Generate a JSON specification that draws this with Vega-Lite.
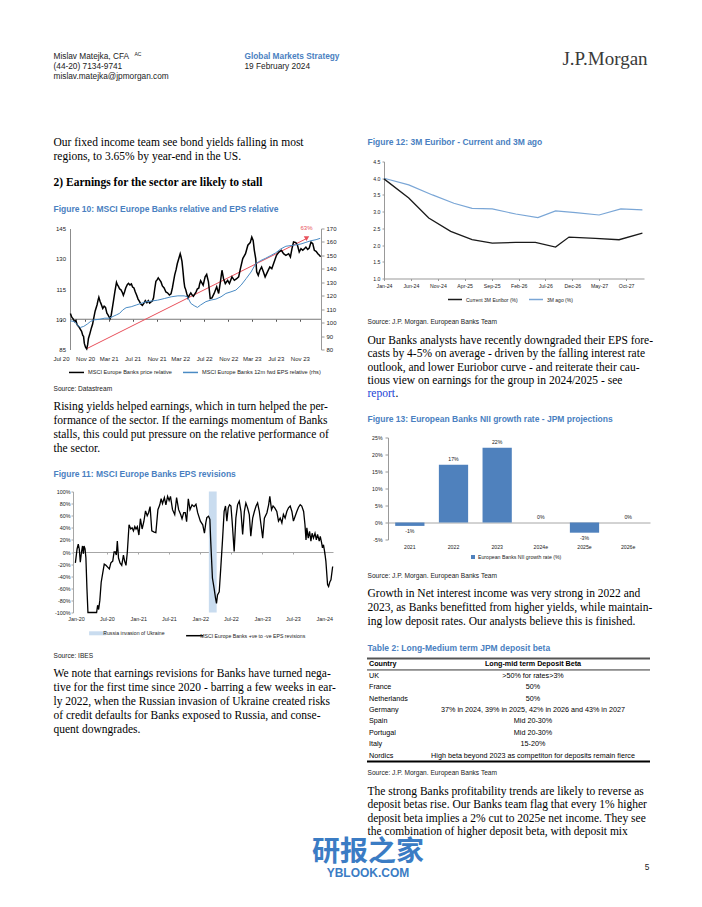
{
"$schema":"https://vega.github.io/schema/vega-lite/v6.json",
"background":"white",
"padding":{"left":52,"top":49.5,"right":0,"bottom":0},
"config":{"view":{"stroke":null},"axis":{"grid":false,"labelColor":"#222","labelFont":"Liberation Sans"},"legend":{"padding":0,"labelColor":"#222","labelFont":"Liberation Sans"}},
"datasets":{
"fig10_price":[{"date":"2020-08-18","value":102.8},{"date":"2020-08-25","value":101.0},{"date":"2020-09-01","value":100.2},{"date":"2020-09-08","value":98.9},{"date":"2020-09-15","value":99.5},{"date":"2020-09-21","value":97.3},{"date":"2020-10-02","value":96.0},{"date":"2020-10-08","value":95.0},{"date":"2020-10-14","value":94.0},{"date":"2020-10-20","value":92.0},{"date":"2020-10-24","value":91.5},{"date":"2020-10-28","value":88.0},{"date":"2020-11-03","value":86.1},{"date":"2020-11-09","value":85.3},{"date":"2020-11-14","value":87.4},{"date":"2020-11-18","value":90.5},{"date":"2020-11-24","value":92.4},{"date":"2020-12-03","value":95.7},{"date":"2020-12-09","value":97.5},{"date":"2020-12-15","value":100.6},{"date":"2020-12-22","value":104.0},{"date":"2021-01-01","value":107.2},{"date":"2021-01-06","value":109.5},{"date":"2021-01-10","value":110.9},{"date":"2021-01-16","value":108.9},{"date":"2021-01-22","value":107.5},{"date":"2021-01-30","value":105.3},{"date":"2021-02-06","value":106.5},{"date":"2021-02-13","value":105.9},{"date":"2021-02-20","value":103.0},{"date":"2021-02-25","value":102.3},{"date":"2021-03-04","value":101.0},{"date":"2021-03-08","value":100.3},{"date":"2021-03-14","value":102.0},{"date":"2021-03-20","value":105.6},{"date":"2021-03-27","value":110.0},{"date":"2021-04-02","value":113.8},{"date":"2021-04-06","value":116.0},{"date":"2021-04-10","value":118.3},{"date":"2021-04-15","value":117.0},{"date":"2021-04-20","value":116.3},{"date":"2021-04-26","value":115.0},{"date":"2021-05-02","value":114.7},{"date":"2021-05-09","value":113.5},{"date":"2021-05-15","value":111.9},{"date":"2021-05-21","value":113.5},{"date":"2021-05-27","value":115.5},{"date":"2021-06-04","value":117.2},{"date":"2021-06-10","value":117.8},{"date":"2021-06-18","value":117.0},{"date":"2021-06-25","value":117.5},{"date":"2021-07-01","value":116.0},{"date":"2021-07-08","value":115.5},{"date":"2021-07-15","value":113.5},{"date":"2021-07-22","value":111.9},{"date":"2021-07-29","value":110.0},{"date":"2021-08-05","value":108.9},{"date":"2021-08-12","value":107.5},{"date":"2021-08-20","value":106.9},{"date":"2021-08-28","value":108.0},{"date":"2021-09-04","value":109.2},{"date":"2021-09-12","value":108.2},{"date":"2021-09-19","value":109.2},{"date":"2021-09-26","value":108.0},{"date":"2021-10-03","value":108.6},{"date":"2021-10-10","value":109.0},{"date":"2021-10-16","value":110.6},{"date":"2021-10-22","value":115.0},{"date":"2021-10-28","value":118.8},{"date":"2021-11-03","value":119.5},{"date":"2021-11-09","value":120.5},{"date":"2021-11-16","value":119.5},{"date":"2021-11-23","value":118.5},{"date":"2021-11-30","value":116.5},{"date":"2021-12-09","value":115.5},{"date":"2021-12-18","value":113.5},{"date":"2021-12-26","value":113.1},{"date":"2022-01-05","value":112.0},{"date":"2022-01-13","value":112.6},{"date":"2022-01-20","value":115.5},{"date":"2022-01-26","value":118.8},{"date":"2022-02-01","value":122.0},{"date":"2022-02-08","value":124.6},{"date":"2022-02-14","value":127.5},{"date":"2022-02-20","value":129.5},{"date":"2022-02-26","value":131.5},{"date":"2022-03-01","value":132.5},{"date":"2022-03-05","value":131.0},{"date":"2022-03-10","value":128.7},{"date":"2022-03-15","value":124.0},{"date":"2022-03-20","value":118.8},{"date":"2022-03-24","value":116.0},{"date":"2022-03-29","value":114.7},{"date":"2022-04-04","value":112.5},{"date":"2022-04-10","value":110.6},{"date":"2022-04-17","value":112.0},{"date":"2022-04-24","value":113.1},{"date":"2022-05-01","value":112.0},{"date":"2022-05-07","value":111.4},{"date":"2022-05-14","value":112.5},{"date":"2022-05-21","value":113.6},{"date":"2022-05-27","value":115.0},{"date":"2022-06-04","value":115.5},{"date":"2022-06-08","value":117.5},{"date":"2022-06-13","value":119.1},{"date":"2022-06-26","value":116.9},{"date":"2022-07-06","value":121.0},{"date":"2022-07-14","value":122.2},{"date":"2022-07-23","value":118.5},{"date":"2022-08-01","value":110.3},{"date":"2022-08-10","value":110.6},{"date":"2022-08-21","value":112.8},{"date":"2022-09-03","value":116.1},{"date":"2022-09-13","value":112.8},{"date":"2022-09-22","value":118.5},{"date":"2022-09-30","value":124.3},{"date":"2022-10-08","value":120.1},{"date":"2022-10-17","value":117.7},{"date":"2022-10-29","value":119.3},{"date":"2022-11-07","value":117.7},{"date":"2022-11-20","value":121.0},{"date":"2022-12-02","value":119.3},{"date":"2022-12-14","value":120.1},{"date":"2022-12-24","value":121.0},{"date":"2023-01-02","value":125.1},{"date":"2023-01-14","value":130.1},{"date":"2023-01-28","value":132.5},{"date":"2023-02-09","value":136.7},{"date":"2023-02-21","value":138.0},{"date":"2023-03-01","value":140.8},{"date":"2023-03-08","value":139.1},{"date":"2023-03-14","value":134.2},{"date":"2023-03-21","value":130.1},{"date":"2023-03-26","value":123.5},{"date":"2023-04-03","value":121.8},{"date":"2023-04-11","value":124.3},{"date":"2023-04-20","value":125.9},{"date":"2023-04-29","value":123.5},{"date":"2023-05-08","value":121.0},{"date":"2023-05-20","value":123.5},{"date":"2023-06-01","value":125.9},{"date":"2023-06-11","value":125.1},{"date":"2023-06-23","value":128.4},{"date":"2023-07-05","value":131.7},{"date":"2023-07-18","value":133.4},{"date":"2023-07-30","value":134.2},{"date":"2023-08-10","value":132.5},{"date":"2023-08-22","value":131.7},{"date":"2023-09-05","value":132.5},{"date":"2023-09-14","value":130.9},{"date":"2023-09-22","value":135.0},{"date":"2023-09-30","value":138.3},{"date":"2023-10-12","value":138.0},{"date":"2023-10-20","value":136.7},{"date":"2023-10-29","value":133.4},{"date":"2023-11-07","value":135.0},{"date":"2023-11-16","value":134.2},{"date":"2023-11-24","value":135.0},{"date":"2023-12-02","value":135.8},{"date":"2023-12-11","value":134.6},{"date":"2023-12-19","value":135.3},{"date":"2023-12-28","value":138.3},{"date":"2024-01-06","value":137.5},{"date":"2024-01-14","value":134.2},{"date":"2024-01-23","value":133.7},{"date":"2024-02-01","value":132.5},{"date":"2024-02-09","value":131.7},{"date":"2024-02-15","value":131.0}],
"fig10_eps":[{"date":"2020-08-18","value":101.3},{"date":"2020-09-08","value":100.8},{"date":"2020-09-21","value":98.4},{"date":"2020-10-08","value":96.4},{"date":"2020-10-25","value":97.2},{"date":"2020-11-12","value":98.9},{"date":"2020-11-28","value":100.8},{"date":"2020-12-15","value":102.0},{"date":"2021-01-14","value":102.5},{"date":"2021-02-09","value":103.3},{"date":"2021-03-04","value":103.3},{"date":"2021-04-09","value":105.7},{"date":"2021-04-26","value":106.9},{"date":"2021-05-12","value":109.4},{"date":"2021-05-29","value":111.1},{"date":"2021-06-24","value":111.8},{"date":"2021-07-20","value":113.1},{"date":"2021-08-13","value":114.3},{"date":"2021-09-08","value":115.5},{"date":"2021-10-03","value":116.0},{"date":"2021-11-06","value":116.7},{"date":"2021-12-10","value":117.9},{"date":"2022-01-14","value":119.2},{"date":"2022-02-17","value":119.9},{"date":"2022-03-21","value":119.9},{"date":"2022-04-07","value":119.2},{"date":"2022-04-24","value":114.3},{"date":"2022-05-11","value":112.6},{"date":"2022-05-28","value":111.3},{"date":"2022-06-13","value":113.1},{"date":"2022-07-10","value":115.6},{"date":"2022-08-05","value":116.8},{"date":"2022-08-30","value":117.5},{"date":"2022-09-25","value":119.2},{"date":"2022-10-20","value":121.7},{"date":"2022-11-15","value":122.9},{"date":"2022-12-10","value":124.2},{"date":"2023-01-05","value":127.8},{"date":"2023-01-31","value":132.7},{"date":"2023-02-25","value":137.6},{"date":"2023-03-21","value":143.8},{"date":"2023-04-16","value":146.2},{"date":"2023-05-11","value":147.9},{"date":"2023-06-06","value":149.9},{"date":"2023-07-01","value":151.9},{"date":"2023-07-27","value":154.8},{"date":"2023-08-22","value":156.8},{"date":"2023-09-17","value":157.3},{"date":"2023-10-12","value":157.8},{"date":"2023-11-07","value":158.5},{"date":"2023-12-02","value":159.7},{"date":"2023-12-28","value":160.9},{"date":"2024-01-23","value":161.7},{"date":"2024-02-13","value":162.7}],
"fig10_trend":[{"date":"2020-11-09","value":85.4,"label":""},{"date":"2023-12-05","value":140.0,"label":"63%"}],
"fig11":[{"date":"2019-12-28","value":-18},{"date":"2020-01-07","value":5},{"date":"2020-01-14","value":13},{"date":"2020-01-20","value":5},{"date":"2020-01-26","value":-17},{"date":"2020-02-02","value":0},{"date":"2020-02-08","value":10},{"date":"2020-02-13","value":-3},{"date":"2020-02-17","value":10},{"date":"2020-02-23","value":5},{"date":"2020-02-28","value":-10},{"date":"2020-03-05","value":-60},{"date":"2020-03-11","value":-100},{"date":"2020-04-08","value":-100},{"date":"2020-05-01","value":-100},{"date":"2020-05-07","value":-88},{"date":"2020-05-13","value":-95},{"date":"2020-05-20","value":-80},{"date":"2020-05-28","value":-50},{"date":"2020-06-06","value":-35},{"date":"2020-06-15","value":-20},{"date":"2020-06-25","value":-22},{"date":"2020-07-05","value":-25},{"date":"2020-07-15","value":-28},{"date":"2020-07-24","value":-18},{"date":"2020-08-04","value":-15},{"date":"2020-08-12","value":0},{"date":"2020-08-19","value":0},{"date":"2020-08-25","value":-5},{"date":"2020-08-31","value":18},{"date":"2020-09-07","value":-10},{"date":"2020-09-16","value":-18},{"date":"2020-09-26","value":-22},{"date":"2020-10-06","value":-5},{"date":"2020-10-13","value":-15},{"date":"2020-10-21","value":-22},{"date":"2020-10-29","value":0},{"date":"2020-11-08","value":45},{"date":"2020-11-18","value":38},{"date":"2020-11-26","value":40},{"date":"2020-12-04","value":35},{"date":"2020-12-12","value":42},{"date":"2020-12-19","value":38},{"date":"2020-12-27","value":42},{"date":"2021-01-05","value":28},{"date":"2021-01-14","value":55},{"date":"2021-01-24","value":38},{"date":"2021-02-03","value":50},{"date":"2021-02-13","value":68},{"date":"2021-02-23","value":60},{"date":"2021-03-03","value":65},{"date":"2021-03-12","value":75},{"date":"2021-03-22","value":35},{"date":"2021-04-05","value":33},{"date":"2021-04-15","value":32},{"date":"2021-04-27","value":70},{"date":"2021-05-08","value":78},{"date":"2021-05-16","value":88},{"date":"2021-05-24","value":80},{"date":"2021-06-04","value":90},{"date":"2021-06-13","value":78},{"date":"2021-06-23","value":92},{"date":"2021-07-02","value":85},{"date":"2021-07-10","value":92},{"date":"2021-07-22","value":70},{"date":"2021-08-04","value":62},{"date":"2021-08-15","value":90},{"date":"2021-08-27","value":70},{"date":"2021-09-08","value":62},{"date":"2021-09-16","value":55},{"date":"2021-09-26","value":65},{"date":"2021-10-05","value":65},{"date":"2021-10-13","value":50},{"date":"2021-10-23","value":88},{"date":"2021-11-02","value":70},{"date":"2021-11-14","value":78},{"date":"2021-11-26","value":75},{"date":"2021-12-07","value":79},{"date":"2021-12-17","value":65},{"date":"2022-01-02","value":51},{"date":"2022-01-16","value":45},{"date":"2022-01-26","value":31},{"date":"2022-02-03","value":48},{"date":"2022-02-09","value":57},{"date":"2022-02-19","value":59},{"date":"2022-02-27","value":54},{"date":"2022-03-04","value":18},{"date":"2022-03-14","value":-43},{"date":"2022-03-24","value":-60},{"date":"2022-04-01","value":-76},{"date":"2022-04-07","value":-85},{"date":"2022-04-13","value":-71},{"date":"2022-04-23","value":-66},{"date":"2022-05-02","value":-27},{"date":"2022-05-12","value":18},{"date":"2022-05-22","value":67},{"date":"2022-05-30","value":76},{"date":"2022-06-07","value":51},{"date":"2022-06-15","value":73},{"date":"2022-06-23","value":78},{"date":"2022-07-01","value":76},{"date":"2022-07-08","value":51},{"date":"2022-07-20","value":1},{"date":"2022-07-30","value":56},{"date":"2022-08-09","value":78},{"date":"2022-08-19","value":84},{"date":"2022-08-29","value":67},{"date":"2022-09-08","value":29},{"date":"2022-09-18","value":67},{"date":"2022-09-27","value":81},{"date":"2022-10-07","value":73},{"date":"2022-10-17","value":62},{"date":"2022-10-26","value":26},{"date":"2022-11-06","value":56},{"date":"2022-11-16","value":67},{"date":"2022-11-26","value":76},{"date":"2022-12-05","value":81},{"date":"2022-12-15","value":67},{"date":"2022-12-25","value":45},{"date":"2023-01-04","value":23},{"date":"2023-01-14","value":56},{"date":"2023-01-29","value":65},{"date":"2023-02-08","value":78},{"date":"2023-02-15","value":92},{"date":"2023-02-25","value":70},{"date":"2023-03-06","value":76},{"date":"2023-03-16","value":73},{"date":"2023-03-28","value":67},{"date":"2023-04-07","value":51},{"date":"2023-04-17","value":56},{"date":"2023-04-27","value":48},{"date":"2023-05-06","value":62},{"date":"2023-05-16","value":56},{"date":"2023-05-26","value":67},{"date":"2023-06-05","value":73},{"date":"2023-06-15","value":76},{"date":"2023-06-25","value":67},{"date":"2023-07-04","value":51},{"date":"2023-07-14","value":59},{"date":"2023-07-24","value":67},{"date":"2023-08-03","value":74},{"date":"2023-08-13","value":78},{"date":"2023-08-22","value":76},{"date":"2023-09-02","value":67},{"date":"2023-09-10","value":45},{"date":"2023-09-16","value":20},{"date":"2023-09-21","value":40},{"date":"2023-09-29","value":23},{"date":"2023-10-07","value":34},{"date":"2023-10-15","value":18},{"date":"2023-10-22","value":31},{"date":"2023-10-30","value":23},{"date":"2023-11-08","value":31},{"date":"2023-11-16","value":20},{"date":"2023-11-23","value":29},{"date":"2023-12-03","value":18},{"date":"2023-12-09","value":26},{"date":"2023-12-17","value":15},{"date":"2023-12-22","value":7},{"date":"2023-12-28","value":12},{"date":"2024-01-05","value":-2},{"date":"2024-01-11","value":-15},{"date":"2024-01-21","value":-54},{"date":"2024-01-27","value":-57},{"date":"2024-02-04","value":-49},{"date":"2024-02-10","value":-46},{"date":"2024-02-20","value":-24}],
"fig12_current":[{"date":"2024-01-01","value":3.98},{"date":"2024-05-20","value":3.41},{"date":"2024-09-10","value":2.81},{"date":"2025-01-12","value":2.41},{"date":"2025-05-13","value":2.16},{"date":"2025-09-04","value":2.06},{"date":"2026-01-15","value":2.08},{"date":"2026-05-06","value":2.08},{"date":"2026-08-28","value":1.94},{"date":"2026-11-12","value":2.24},{"date":"2027-04-10","value":2.2},{"date":"2027-08-22","value":2.16},{"date":"2028-01-01","value":2.36}],
"fig12_ago":[{"date":"2024-01-01","value":4.0},{"date":"2024-05-20","value":3.8},{"date":"2024-10-01","value":3.5},{"date":"2025-01-30","value":3.25},{"date":"2025-05-13","value":3.1},{"date":"2025-09-04","value":3.08},{"date":"2026-01-15","value":2.93},{"date":"2026-05-20","value":2.82},{"date":"2026-08-28","value":3.02},{"date":"2026-12-20","value":2.97},{"date":"2027-05-01","value":2.9},{"date":"2027-09-01","value":3.08},{"date":"2028-01-01","value":3.05}],
"fig13":[{"year":"2021","growth":-1,"label":"-1%"},{"year":"2022","growth":17,"label":"17%"},{"year":"2023","growth":22,"label":"22%"},{"year":"2024e","growth":0,"label":"0%"},{"year":"2025e","growth":-3,"label":"-3%"},{"year":"2026e","growth":0,"label":"0%"}],
"table2":[{"row":"Country","col":"Country","text":"Country"},{"row":"Country","col":"Beta","text":"Long-mid term Deposit Beta"},{"row":"UK","col":"Country","text":"UK"},{"row":"UK","col":"Beta","text":">50% for rates>3%"},{"row":"France","col":"Country","text":"France"},{"row":"France","col":"Beta","text":"50%"},{"row":"Netherlands","col":"Country","text":"Netherlands"},{"row":"Netherlands","col":"Beta","text":"50%"},{"row":"Germany","col":"Country","text":"Germany"},{"row":"Germany","col":"Beta","text":"37% in 2024, 39% in 2025, 42% in 2026 and 43% in 2027"},{"row":"Spain","col":"Country","text":"Spain"},{"row":"Spain","col":"Beta","text":"Mid 20-30%"},{"row":"Portugal","col":"Country","text":"Portugal"},{"row":"Portugal","col":"Beta","text":"Mid 20-30%"},{"row":"Italy","col":"Country","text":"Italy"},{"row":"Italy","col":"Beta","text":"15-20%"},{"row":"Nordics","col":"Country","text":"Nordics"},{"row":"Nordics","col":"Beta","text":"High beta beyond 2023 as competiton for deposits remain fierce"}]
},
"spacing":0,
"resolve":{"scale":{"color":"independent"},"legend":{"color":"independent"}},
"vconcat":[
{"hconcat":[
 {"width":1,"height":30,"encoding":{"y":{"field":"i","type":"ordinal","scale":{"type":"point","padding":0.5},"axis":null},"text":{"field":"t"}},
  "layer":[
   {"data":{"values":[{"i":0,"t":"Mislav Matejka, CFA"},{"i":1,"t":"(44-20) 7134-9741"},{"i":2,"t":"mislav.matejka@jpmorgan.com"}]},"mark":{"type":"text","align":"left","baseline":"middle","font":"Liberation Sans","fontSize":8.3,"color":"#222"}},
   {"data":{"values":[{"i":0,"t":"AC"}]},"mark":{"type":"text","align":"left","baseline":"middle","font":"Liberation Sans","fontSize":5,"color":"#222","dx":81,"dy":-3}}
  ]},
 {"width":190,"height":1,"data":{"values":[]},"mark":"point"},
 {"width":1,"height":20,"encoding":{"y":{"field":"i","type":"ordinal","scale":{"type":"point","padding":0.5},"axis":null},"text":{"field":"t"}},
  "layer":[
   {"data":{"values":[{"i":0,"t":"Global Markets Strategy"}]},"mark":{"type":"text","align":"left","baseline":"middle","font":"Liberation Sans","fontSize":8.3,"fontWeight":"bold","color":"#4a7fc1"}},
   {"data":{"values":[{"i":1,"t":"19 February 2024"}]},"mark":{"type":"text","align":"left","baseline":"middle","font":"Liberation Sans","fontSize":8.3,"color":"#222"}}
  ]},
 {"width":315,"height":1,"data":{"values":[]},"mark":"point"},
 {"width":90,"height":14,"data":{"values":[{"t":"J.P.Morgan"}]},"mark":{"type":"text","align":"center","baseline":"middle","font":"Liberation Serif","fontSize":19,"color":"#3a3a3a"},"encoding":{"text":{"field":"t"}}}
],"spacing":0,"bounds":"flush"},
{"hconcat":[
 {"vconcat":[
  {"width":313,"height":54,"data":{"values":[]},"mark":"point"},
  {"width":1,"height":28,"data":{"values":[{"i":0,"t":"Our fixed income team see bond yields falling in most"},{"i":1,"t":"regions, to 3.65% by year-end in the US."}]},"mark":{"type":"text","align":"left","baseline":"middle","font":"Liberation Serif","fontSize":11.5,"color":"#000"},"encoding":{"y":{"field":"i","type":"ordinal","scale":{"type":"point","padding":0.5},"axis":null},"text":{"field":"t"}}},
  {"width":1,"height":12,"data":{"values":[]},"mark":"point"},
  {"width":1,"height":14,"data":{"values":[{"t":"2) Earnings for the sector are likely to stall"}]},"mark":{"type":"text","align":"left","baseline":"middle","font":"Liberation Serif","fontSize":11.5,"fontWeight":"bold","color":"#000"},"encoding":{"text":{"field":"t"}}},
  {"width":1,"height":13,"data":{"values":[]},"mark":"point"},
  {"width":1,"height":12,"data":{"values":[{"t":"Figure 10: MSCI Europe Banks relative and EPS relative"}]},"mark":{"type":"text","align":"left","baseline":"middle","font":"Liberation Sans","fontSize":8.5,"fontWeight":"bold","color":"#4a7fc1"},"encoding":{"text":{"field":"t"}}},
  {"width":1,"height":14,"data":{"values":[]},"mark":"point"},
  {"width":268,"height":121,
   "encoding":{"x":{"field":"date","type":"temporal","scale":{"domain":[{"year":2020,"month":7,"date":1},{"year":2024,"month":2,"date":17}],"range":[8,268]},"axis":{"values":[{"year":2020,"month":7,"date":1},{"year":2020,"month":11,"date":1},{"year":2021,"month":3,"date":1},{"year":2021,"month":7,"date":1},{"year":2021,"month":11,"date":1},{"year":2022,"month":3,"date":1},{"year":2022,"month":7,"date":1},{"year":2022,"month":11,"date":1},{"year":2023,"month":3,"date":1},{"year":2023,"month":7,"date":1},{"year":2023,"month":11,"date":1}],"format":"%b %y","title":null,"offset":-30.25,"domain":false,"ticks":true,"tickSize":2,"tickColor":"#555","labelPadding":34.5,"labelFontSize":6,"labelFlush":false,"labelOverlap":false}}},
   "layer":[
    {"layer":[
      {"data":{"values":[{"level":100,"from":"2020-08-18","to":"2024-02-17"}]},"mark":{"type":"rule","color":"#555","strokeWidth":0.8},"encoding":{"x":{"field":"from","type":"temporal"},"x2":{"field":"to"},"y":{"field":"level","type":"quantitative","scale":{"domain":[85,145],"nice":false,"zero":false},"axis":{"title":null,"values":[85,100,115,130,145],"offset":-17,"domain":true,"domainColor":"#8c8c8c","ticks":false,"labelPadding":4.5,"labelFontSize":6,"labelFlush":false}}}},
      {"data":{"name":"fig10_trend"},"mark":{"type":"line","color":"#e8505b","strokeWidth":1},"encoding":{"y":{"field":"value","type":"quantitative","scale":{"domain":[85,145],"nice":false,"zero":false},"axis":{"title":null,"values":[85,100,115,130,145],"offset":-17,"domain":true,"domainColor":"#8c8c8c","ticks":false,"labelPadding":4.5,"labelFontSize":6,"labelFlush":false}}}},
      {"data":{"name":"fig10_price"},"mark":{"type":"line","strokeWidth":1.5},"encoding":{"y":{"field":"value","type":"quantitative","scale":{"domain":[85,145],"nice":false,"zero":false},"axis":{"title":null,"values":[85,100,115,130,145],"offset":-17,"domain":true,"domainColor":"#8c8c8c","ticks":false,"labelPadding":4.5,"labelFontSize":6,"labelFlush":false}},
        "color":{"datum":"MSCI Europe Banks price relative","type":"nominal","scale":{"domain":["MSCI Europe Banks price relative","MSCI Europe Banks 12m fwd EPS relative (rhs)"],"range":["#000000","#4a8bc4"]},"legend":{"title":null,"orient":"none","legendX":15,"legendY":135,"direction":"horizontal","symbolType":"stroke","symbolSize":225,"symbolStrokeWidth":1.5,"labelFontSize":5.6,"columnPadding":8,"labelOffset":3}}}},
      {"data":{"name":"fig10_trend"},"transform":[{"filter":"datum.label != ''"}],"mark":{"type":"point","shape":"triangle-down","filled":true,"color":"#e8505b","size":30,"opacity":1},"encoding":{"y":{"field":"value","type":"quantitative","scale":{"domain":[85,145],"nice":false,"zero":false},"axis":{"title":null,"values":[85,100,115,130,145],"offset":-17,"domain":true,"domainColor":"#8c8c8c","ticks":false,"labelPadding":4.5,"labelFontSize":6,"labelFlush":false}}}},
      {"data":{"name":"fig10_trend"},"transform":[{"filter":"datum.label != ''"}],"mark":{"type":"text","color":"#e8505b","font":"Liberation Sans","fontSize":6,"dy":-11},"encoding":{"y":{"field":"value","type":"quantitative","scale":{"domain":[85,145],"nice":false,"zero":false},"axis":{"title":null,"values":[85,100,115,130,145],"offset":-17,"domain":true,"domainColor":"#8c8c8c","ticks":false,"labelPadding":4.5,"labelFontSize":6,"labelFlush":false}},"text":{"field":"label"}}}
    ]},
    {"data":{"name":"fig10_eps"},"mark":{"type":"line","strokeWidth":1},"encoding":{"y":{"field":"value","type":"quantitative","scale":{"domain":[80,170],"nice":false,"zero":false},"axis":{"title":null,"orient":"right","values":[80,90,100,110,120,130,140,150,160,170],"domain":true,"domainColor":"#999","ticks":true,"tickSize":3,"tickColor":"#999","labelPadding":2,"labelFontSize":6,"labelFlush":false}},
      "color":{"datum":"MSCI Europe Banks 12m fwd EPS relative (rhs)","type":"nominal","scale":{"domain":["MSCI Europe Banks price relative","MSCI Europe Banks 12m fwd EPS relative (rhs)"],"range":["#000000","#4a8bc4"]},"legend":{"title":null,"orient":"none","legendX":15,"legendY":135,"direction":"horizontal","symbolType":"stroke","symbolSize":225,"symbolStrokeWidth":1.5,"labelFontSize":5.6,"columnPadding":8,"labelOffset":3}}}}
   ],
   "resolve":{"scale":{"y":"independent"}}},
  {"width":1,"height":34,"data":{"values":[]},"mark":"point"},
  {"width":1,"height":10,"data":{"values":[{"t":"Source: Datastream"}]},"mark":{"type":"text","align":"left","baseline":"middle","font":"Liberation Sans","fontSize":6.6,"color":"#222"},"encoding":{"text":{"field":"t"}}},
  {"width":1,"height":7,"data":{"values":[]},"mark":"point"},
  {"width":1,"height":55,"data":{"values":[{"i":0,"t":"Rising yields helped earnings, which in turn helped the per-"},{"i":1,"t":"formance of the sector. If the earnings momentum of Banks"},{"i":2,"t":"stalls, this could put pressure on the relative performance of"},{"i":3,"t":"the sector."}]},"mark":{"type":"text","align":"left","baseline":"middle","font":"Liberation Serif","fontSize":11.5,"color":"#000"},"encoding":{"y":{"field":"i","type":"ordinal","scale":{"type":"point","padding":0.5},"axis":null},"text":{"field":"t"}}},
  {"width":1,"height":12,"data":{"values":[]},"mark":"point"},
  {"width":1,"height":12,"data":{"values":[{"t":"Figure 11: MSCI Europe Banks EPS revisions"}]},"mark":{"type":"text","align":"left","baseline":"middle","font":"Liberation Sans","fontSize":8.5,"fontWeight":"bold","color":"#4a7fc1"},"encoding":{"text":{"field":"t"}}},
  {"width":1,"height":12,"data":{"values":[]},"mark":"point"},
  {"width":280,"height":121,
   "layer":[
    {"data":{"values":[{"date":"2022-02-21","end":"2022-04-08"}]},"mark":{"type":"rect"},"encoding":{"x":{"field":"date","type":"temporal","scale":{"domain":[{"year":2019,"month":12,"date":14},{"year":2024,"month":2,"date":22}],"range":[20,280]},"axis":{"values":[{"year":2020,"month":1,"date":1},{"year":2020,"month":7,"date":1},{"year":2021,"month":1,"date":1},{"year":2021,"month":7,"date":1},{"year":2022,"month":1,"date":1},{"year":2022,"month":7,"date":1},{"year":2023,"month":1,"date":1},{"year":2023,"month":7,"date":1},{"year":2024,"month":1,"date":1}],"format":"%b-%y","title":null,"offset":-60.5,"domain":true,"domainColor":"#a6a6a6","ticks":true,"tickSize":2,"tickColor":"#a6a6a6","labelPadding":62.8,"labelFontSize":5.4,"labelFlush":false,"labelOverlap":false}},"x2":{"field":"end"},
      "color":{"datum":"Russia invasion of Ukraine","type":"nominal","scale":{"domain":["Russia invasion of Ukraine","MSCI Europe Banks +ve to -ve EPS revisions"],"range":["#c9dcef","#000000"]},"legend":{"title":null,"orient":"none","legendX":42,"legendY":139,"direction":"horizontal","symbolType":"stroke","symbolSize":289,"symbolStrokeWidth":1.5,"labelFontSize":5.2,"columnPadding":18,"labelOffset":3,"encode":{"symbols":{"update":{"stroke":{"signal":"datum.value === 'Russia invasion of Ukraine' ? '#c9dcef' : '#000000'"},"strokeWidth":{"signal":"datum.value === 'Russia invasion of Ukraine' ? 4 : 1.5"}}}}}}}},
    {"data":{"name":"fig11"},"mark":{"type":"line","strokeWidth":1.3},"encoding":{"x":{"field":"date","type":"temporal","scale":{"domain":[{"year":2019,"month":12,"date":14},{"year":2024,"month":2,"date":22}],"range":[20,280]},"axis":{"values":[{"year":2020,"month":1,"date":1},{"year":2020,"month":7,"date":1},{"year":2021,"month":1,"date":1},{"year":2021,"month":7,"date":1},{"year":2022,"month":1,"date":1},{"year":2022,"month":7,"date":1},{"year":2023,"month":1,"date":1},{"year":2023,"month":7,"date":1},{"year":2024,"month":1,"date":1}],"format":"%b-%y","title":null,"offset":-60.5,"domain":true,"domainColor":"#a6a6a6","ticks":true,"tickSize":2,"tickColor":"#a6a6a6","labelPadding":62.8,"labelFontSize":5.4,"labelFlush":false,"labelOverlap":false}},"y":{"field":"value","type":"quantitative","scale":{"domain":[-100,100],"nice":false},"axis":{"title":null,"values":[-100,-80,-60,-40,-20,0,20,40,60,80,100],"labelExpr":"datum.value + '%'","offset":-20,"domain":true,"domainColor":"#a6a6a6","ticks":true,"tickSize":2,"tickColor":"#a6a6a6","labelPadding":1,"labelFontSize":5.4,"labelFlush":false}},
      "color":{"datum":"MSCI Europe Banks +ve to -ve EPS revisions","type":"nominal","scale":{"domain":["Russia invasion of Ukraine","MSCI Europe Banks +ve to -ve EPS revisions"],"range":["#c9dcef","#000000"]},"legend":{"title":null,"orient":"none","legendX":42,"legendY":139,"direction":"horizontal","symbolType":"stroke","symbolSize":289,"symbolStrokeWidth":1.5,"labelFontSize":5.2,"columnPadding":18,"labelOffset":3,"encode":{"symbols":{"update":{"stroke":{"signal":"datum.value === 'Russia invasion of Ukraine' ? '#c9dcef' : '#000000'"},"strokeWidth":{"signal":"datum.value === 'Russia invasion of Ukraine' ? 4 : 1.5"}}}}}}}}
   ]},
  {"width":1,"height":38,"data":{"values":[]},"mark":"point"},
  {"width":1,"height":10,"data":{"values":[{"t":"Source: IBES"}]},"mark":{"type":"text","align":"left","baseline":"middle","font":"Liberation Sans","fontSize":6.6,"color":"#222"},"encoding":{"text":{"field":"t"}}},
  {"width":1,"height":7,"data":{"values":[]},"mark":"point"},
  {"width":1,"height":69,"data":{"values":[{"i":0,"t":"We note that earnings revisions for Banks have turned nega-"},{"i":1,"t":"tive for the first time since 2020 - barring a few weeks in ear-"},{"i":2,"t":"ly 2022, when the Russian invasion of Ukraine created risks"},{"i":3,"t":"of credit defaults for Banks exposed to Russia, and conse-"},{"i":4,"t":"quent downgrades."}]},"mark":{"type":"text","align":"left","baseline":"middle","font":"Liberation Serif","fontSize":11.5,"color":"#000"},"encoding":{"y":{"field":"i","type":"ordinal","scale":{"type":"point","padding":0.5},"axis":null},"text":{"field":"t"}}},
  {"width":1,"height":100,"data":{"values":[]},"mark":"point"}
 ],"spacing":0,"bounds":"flush","resolve":{"scale":{"color":"independent"},"legend":{"color":"independent"}}},
 {"vconcat":[
  {"width":1,"height":54,"data":{"values":[]},"mark":"point"},
  {"width":1,"height":12,"data":{"values":[{"t":"Figure 12: 3M Euribor - Current and 3M ago"}]},"mark":{"type":"text","align":"left","baseline":"middle","font":"Liberation Sans","fontSize":8.5,"fontWeight":"bold","color":"#4a7fc1"},"encoding":{"text":{"field":"t"}}},
  {"width":1,"height":14,"data":{"values":[]},"mark":"point"},
  {"width":277,"height":117,
   "encoding":{"x":{"field":"date","type":"temporal","scale":{"domain":[{"year":2024,"month":1,"date":1},{"year":2028,"month":1,"date":10}],"range":[17,277]},"axis":{"values":[{"year":2024,"month":1,"date":1},{"year":2024,"month":6,"date":1},{"year":2024,"month":11,"date":1},{"year":2025,"month":4,"date":1},{"year":2025,"month":9,"date":1},{"year":2026,"month":2,"date":1},{"year":2026,"month":7,"date":1},{"year":2026,"month":12,"date":1},{"year":2027,"month":5,"date":1},{"year":2027,"month":10,"date":1}],"format":"%b-%y","title":null,"domain":true,"domainColor":"#999","ticks":true,"tickSize":2,"tickColor":"#999","labelPadding":2.5,"labelFontSize":5.2,"labelFlush":false,"labelOverlap":false}},
    "y":{"field":"value","type":"quantitative","scale":{"domain":[1,4.5],"nice":false,"zero":false},"axis":{"title":null,"values":[1,1.5,2,2.5,3,3.5,4,4.5],"format":".1f","offset":-17,"domain":true,"domainColor":"#999","ticks":true,"tickSize":2,"tickColor":"#999","labelPadding":2,"labelFontSize":5.2,"labelFlush":false}}},
   "layer":[
    {"data":{"name":"fig12_ago"},"mark":{"type":"line","strokeWidth":1.2},"encoding":{"color":{"datum":"3M ago (%)","type":"nominal","scale":{"domain":["Current 3M Euribor (%)","3M ago (%)"],"range":["#1a1a1a","#7aa6d6"]},"legend":{"title":null,"orient":"none","legendX":80,"legendY":130,"direction":"horizontal","symbolType":"stroke","symbolSize":196,"symbolStrokeWidth":1.5,"labelFontSize":5,"columnPadding":8,"labelOffset":3}}}},
    {"data":{"name":"fig12_current"},"mark":{"type":"line","strokeWidth":1.3},"encoding":{"color":{"datum":"Current 3M Euribor (%)","type":"nominal","scale":{"domain":["Current 3M Euribor (%)","3M ago (%)"],"range":["#1a1a1a","#7aa6d6"]},"legend":{"title":null,"orient":"none","legendX":80,"legendY":130,"direction":"horizontal","symbolType":"stroke","symbolSize":196,"symbolStrokeWidth":1.5,"labelFontSize":5,"columnPadding":8,"labelOffset":3}}}}
   ]},
  {"width":1,"height":38,"data":{"values":[]},"mark":"point"},
  {"width":1,"height":10,"data":{"values":[{"t":"Source: J.P. Morgan. European Banks Team"}]},"mark":{"type":"text","align":"left","baseline":"middle","font":"Liberation Sans","fontSize":6.6,"color":"#222"},"encoding":{"text":{"field":"t"}}},
  {"width":1,"height":8,"data":{"values":[]},"mark":"point"},
  {"width":1,"height":66,"encoding":{"y":{"field":"i","type":"ordinal","scale":{"type":"point","padding":0.5},"axis":null},"text":{"field":"t"}},
   "layer":[
    {"data":{"values":[{"i":0,"t":"Our Banks analysts have recently downgraded their EPS fore-"},{"i":1,"t":"casts by 4-5% on average - driven by the falling interest rate"},{"i":2,"t":"outlook, and lower Euriobor curve - and reiterate their cau-"},{"i":3,"t":"tious view on earnings for the group in 2024/2025 - see"},{"i":4,"t":"report"}]},"mark":{"type":"text","align":"left","baseline":"middle","font":"Liberation Serif","fontSize":11.5},"encoding":{"color":{"condition":{"test":"datum.i === 4","value":"#1a3fd6"},"value":"#000000"}}},
    {"data":{"values":[{"i":4,"t":"."}]},"mark":{"type":"text","align":"left","baseline":"middle","font":"Liberation Serif","fontSize":11.5,"color":"#000","dx":28}}
   ]},
  {"width":1,"height":12,"data":{"values":[]},"mark":"point"},
  {"width":1,"height":12,"data":{"values":[{"t":"Figure 13: European Banks NII growth rate - JPM projections"}]},"mark":{"type":"text","align":"left","baseline":"middle","font":"Liberation Sans","fontSize":8.5,"fontWeight":"bold","color":"#4a7fc1"},"encoding":{"text":{"field":"t"}}},
  {"width":1,"height":13,"data":{"values":[]},"mark":"point"},
  {"width":283,"height":102,"data":{"name":"fig13"},
   "layer":[
    {"mark":{"type":"bar"},"encoding":{"x":{"field":"year","type":"nominal","sort":null,"scale":{"range":[21,283],"paddingInner":0.33,"paddingOuter":0.165},"axis":{"title":null,"labelAngle":0,"offset":-17,"domain":true,"domainColor":"#a6a6a6","ticks":false,"labelPadding":22,"labelFontSize":5.2}},"y":{"field":"growth","type":"quantitative","scale":{"domain":[-5,25],"nice":false},"axis":{"title":null,"values":[-5,0,5,10,15,20,25],"labelExpr":"datum.value + '%'","offset":-21,"domain":true,"domainColor":"#999","ticks":true,"tickSize":3,"tickColor":"#999","labelPadding":3,"labelFontSize":5.2,"labelFlush":false,"labelOverlap":false}},
      "color":{"datum":"European Banks NII growth rate (%)","type":"nominal","scale":{"range":["#4f81bd"]},"legend":{"title":null,"orient":"none","legendX":103,"legendY":116.5,"symbolType":"square","symbolSize":16,"labelFontSize":5.2,"labelOffset":2}}}},
    {"transform":[{"filter":"datum.growth >= 0"}],"mark":{"type":"text","baseline":"bottom","dy":-3,"font":"Liberation Sans","fontSize":5.2,"color":"#222"},"encoding":{"x":{"field":"year","type":"nominal","sort":null,"scale":{"range":[21,283],"paddingInner":0.33,"paddingOuter":0.165},"axis":{"title":null,"labelAngle":0,"offset":-17,"domain":true,"domainColor":"#a6a6a6","ticks":false,"labelPadding":22,"labelFontSize":5.2}},"y":{"field":"growth","type":"quantitative","scale":{"domain":[-5,25],"nice":false},"axis":{"title":null,"values":[-5,0,5,10,15,20,25],"labelExpr":"datum.value + '%'","offset":-21,"domain":true,"domainColor":"#999","ticks":true,"tickSize":3,"tickColor":"#999","labelPadding":3,"labelFontSize":5.2,"labelFlush":false,"labelOverlap":false}},"text":{"field":"label"}}},
    {"transform":[{"filter":"datum.growth < 0"}],"mark":{"type":"text","baseline":"top","dy":3,"font":"Liberation Sans","fontSize":5.2,"color":"#222"},"encoding":{"x":{"field":"year","type":"nominal","sort":null,"scale":{"range":[21,283],"paddingInner":0.33,"paddingOuter":0.165},"axis":{"title":null,"labelAngle":0,"offset":-17,"domain":true,"domainColor":"#a6a6a6","ticks":false,"labelPadding":22,"labelFontSize":5.2}},"y":{"field":"growth","type":"quantitative","scale":{"domain":[-5,25],"nice":false},"axis":{"title":null,"values":[-5,0,5,10,15,20,25],"labelExpr":"datum.value + '%'","offset":-21,"domain":true,"domainColor":"#999","ticks":true,"tickSize":3,"tickColor":"#999","labelPadding":3,"labelFontSize":5.2,"labelFlush":false,"labelOverlap":false}},"text":{"field":"label"}}}
   ]},
  {"width":1,"height":31,"data":{"values":[]},"mark":"point"},
  {"width":1,"height":10,"data":{"values":[{"t":"Source: J.P. Morgan. European Banks Team"}]},"mark":{"type":"text","align":"left","baseline":"middle","font":"Liberation Sans","fontSize":6.6,"color":"#222"},"encoding":{"text":{"field":"t"}}},
  {"width":1,"height":7,"data":{"values":[]},"mark":"point"},
  {"width":1,"height":41,"data":{"values":[{"i":0,"t":"Growth in Net interest income was very strong in 2022 and"},{"i":1,"t":"2023, as Banks benefitted from higher yields, while maintain-"},{"i":2,"t":"ing low deposit rates. Our analysts believe this is finished."}]},"mark":{"type":"text","align":"left","baseline":"middle","font":"Liberation Serif","fontSize":11.5,"color":"#000"},"encoding":{"y":{"field":"i","type":"ordinal","scale":{"type":"point","padding":0.5},"axis":null},"text":{"field":"t"}}},
  {"width":1,"height":13,"data":{"values":[]},"mark":"point"},
  {"width":1,"height":12,"data":{"values":[{"t":"Table 2: Long-Medium term JPM deposit beta"}]},"mark":{"type":"text","align":"left","baseline":"middle","font":"Liberation Sans","fontSize":8.5,"fontWeight":"bold","color":"#4a7fc1"},"encoding":{"text":{"field":"t"}}},
  {"width":1,"height":5,"data":{"values":[]},"mark":"point"},
  {"width":283,"height":103,
   "layer":[
    {"data":{"values":[{"row":"Country"}]},"mark":{"type":"rule","color":"#555","strokeWidth":2},"encoding":{"y":{"field":"row","type":"nominal","bandPosition":0,"scale":{"type":"band","domain":["Country","UK","France","Netherlands","Germany","Spain","Portugal","Italy","Nordics"],"paddingInner":0,"paddingOuter":0},"axis":null}}},
    {"data":{"values":[{"row":"UK"}]},"mark":{"type":"rule","color":"#000","strokeWidth":0.8},"encoding":{"y":{"field":"row","type":"nominal","bandPosition":0,"scale":{"type":"band","domain":["Country","UK","France","Netherlands","Germany","Spain","Portugal","Italy","Nordics"],"paddingInner":0,"paddingOuter":0},"axis":null}}},
    {"data":{"values":[{"row":"Nordics"}]},"mark":{"type":"rule","color":"#000","strokeWidth":2},"encoding":{"y":{"field":"row","type":"nominal","bandPosition":1,"scale":{"type":"band","domain":["Country","UK","France","Netherlands","Germany","Spain","Portugal","Italy","Nordics"],"paddingInner":0,"paddingOuter":0},"axis":null}}},
    {"data":{"name":"table2"},"transform":[{"filter":"datum.row === 'Country' && datum.col === 'Country'"}],"mark":{"type":"text","align":"left","baseline":"middle","font":"Liberation Sans","fontSize":7.2,"fontWeight":"bold","color":"#000"},"encoding":{"x":{"field":"col","type":"nominal","scale":{"type":"point","domain":["Country","Beta"],"range":[2,166],"padding":0},"axis":null},"y":{"field":"row","type":"nominal","axis":null},"text":{"field":"text"}}},
    {"data":{"name":"table2"},"transform":[{"filter":"datum.row === 'Country' && datum.col === 'Beta'"}],"mark":{"type":"text","align":"center","baseline":"middle","font":"Liberation Sans","fontSize":7.2,"fontWeight":"bold","color":"#000"},"encoding":{"x":{"field":"col","type":"nominal","axis":null},"y":{"field":"row","type":"nominal","axis":null},"text":{"field":"text"}}},
    {"data":{"name":"table2"},"transform":[{"filter":"datum.row !== 'Country' && datum.col === 'Country'"}],"mark":{"type":"text","align":"left","baseline":"middle","font":"Liberation Sans","fontSize":7.2,"color":"#000"},"encoding":{"x":{"field":"col","type":"nominal","axis":null},"y":{"field":"row","type":"nominal","axis":null},"text":{"field":"text"}}},
    {"data":{"name":"table2"},"transform":[{"filter":"datum.row !== 'Country' && datum.col === 'Beta'"}],"mark":{"type":"text","align":"center","baseline":"middle","font":"Liberation Sans","fontSize":7.2,"color":"#000"},"encoding":{"x":{"field":"col","type":"nominal","axis":null},"y":{"field":"row","type":"nominal","axis":null},"text":{"field":"text"}}}
   ]},
  {"width":1,"height":6,"data":{"values":[]},"mark":"point"},
  {"width":1,"height":10,"data":{"values":[{"t":"Source: J.P. Morgan. European Banks Team"}]},"mark":{"type":"text","align":"left","baseline":"middle","font":"Liberation Sans","fontSize":6.6,"color":"#222"},"encoding":{"text":{"field":"t"}}},
  {"width":1,"height":8,"data":{"values":[]},"mark":"point"},
  {"width":1,"height":53,"data":{"values":[{"i":0,"t":"The strong Banks profitability trends are likely to reverse as"},{"i":1,"t":"deposit betas rise.  Our Banks team flag that every 1% higher"},{"i":2,"t":"deposit beta implies a 2% cut to 2025e net income. They see"},{"i":3,"t":"the combination of higher deposit beta, with deposit mix"}]},"mark":{"type":"text","align":"left","baseline":"middle","font":"Liberation Serif","fontSize":11.5,"color":"#000"},"encoding":{"y":{"field":"i","type":"ordinal","scale":{"type":"point","padding":0.5},"axis":null},"text":{"field":"t"}}}
 ],"spacing":0,"bounds":"flush","resolve":{"scale":{"color":"independent"},"legend":{"color":"independent"}}}
],"spacing":0,"resolve":{"scale":{"color":"independent"},"legend":{"color":"independent"}}},
{"hconcat":[
 {"width":250,"height":1,"data":{"values":[]},"mark":"point"},
 {"width":130,"height":48,"encoding":{"y":{"field":"i","type":"ordinal","scale":{"type":"point","padding":0.7},"axis":null},"text":{"field":"t"}},
  "layer":[
   {"data":{"values":[{"i":0,"t":"研报之家"}]},"mark":{"type":"text","align":"center","baseline":"middle","font":"Noto Sans CJK SC","fontSize":28,"fontWeight":"bold","color":"#3b7cc4"}},
   {"data":{"values":[{"i":1,"t":"YBLOOK.COM"}]},"mark":{"type":"text","align":"center","baseline":"middle","font":"Liberation Sans","fontSize":12,"fontWeight":"bold","color":"#3b7cc4"}}
  ]},
 {"width":209,"height":1,"data":{"values":[]},"mark":"point"},
 {"width":10,"height":58,"data":{"values":[{"t":"5"}]},"mark":{"type":"text","align":"center","baseline":"middle","font":"Liberation Sans","fontSize":8.3,"color":"#222"},"encoding":{"text":{"field":"t"}}}
],"spacing":0,"bounds":"flush"}
]
}
